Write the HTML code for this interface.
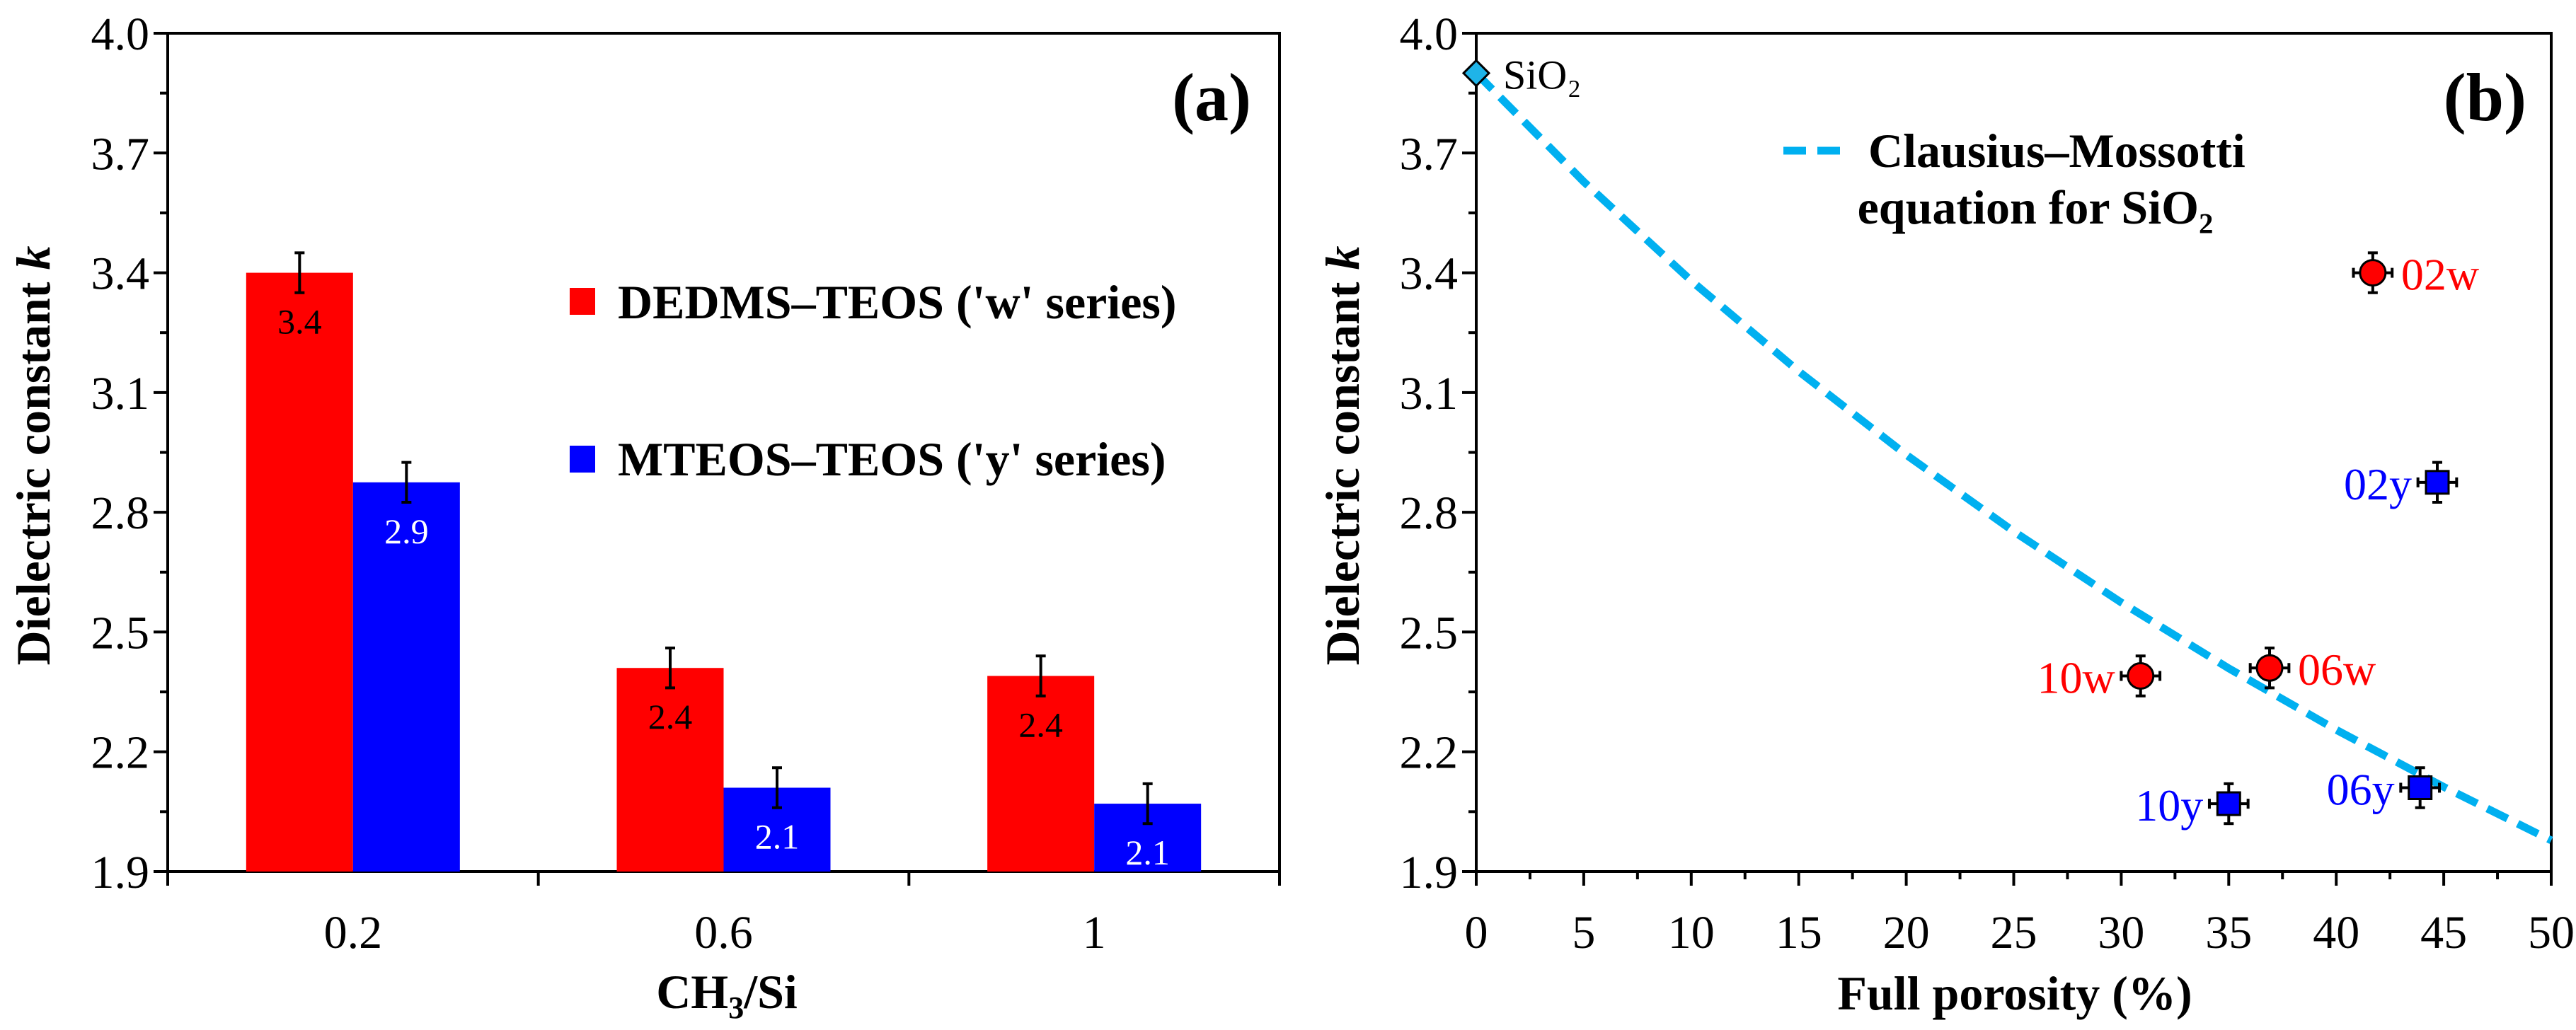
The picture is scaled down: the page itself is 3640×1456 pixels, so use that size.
<!DOCTYPE html>
<html><head><meta charset="utf-8"><style>
body{margin:0;background:#fff}
svg{display:block;font-family:"Liberation Serif",serif}
text{font-family:"Liberation Serif",serif}
</style></head><body>
<svg id="c" width="3640" height="1456" viewBox="0 0 3640 1456" font-family="Liberation Serif, serif"></svg>
<script>
const cats=["0.2","0.6","1"];
const wVals=[3.40,2.41,2.39];
const yVals=[2.875,2.11,2.07];
const barErr=[0.05,0.05,0.05];
const barLabels=["3.4","2.4","2.4"];
const barLabelsY=["2.9","2.1","2.1"];
const yTicks=[1.9,2.2,2.5,2.8,3.1,3.4,3.7,4.0];
const xTicksB=[0,5,10,15,20,25,30,35,40,45,50];
const ptNames=["02w","06w","10w","02y","06y","10y"];
const ptX=[41.7,36.9,30.9,44.7,43.9,35.0];
const ptY=[3.40,2.41,2.39,2.875,2.11,2.07];
const ptSeries=["w","w","w","y","y","y"];
const ptXErr=[0.9,0.9,0.9,0.9,0.9,0.9];
const ptYErr=[0.05,0.05,0.05,0.05,0.05,0.05];
const cmX=[0,5,10,15,20,25,30,35,40,45,50];
const cmK=[3.9,3.628,3.380,3.153,2.944,2.752,2.574,2.409,2.255,2.112,1.978];

const NS="http://www.w3.org/2000/svg";
const svg=document.getElementById('c');
function el(t,a,txt){const e=document.createElementNS(NS,t);for(const k in a)e.setAttribute(k,a[k]);if(txt!=null)e.textContent=txt;svg.appendChild(e);return e;}
const pTop=47,pBot=1232;
const Y=v=>pBot-(v-1.9)/(4.0-1.9)*(pBot-pTop);
const TF=66, TT=68;

// ===== Panel A =====
const aL=237,aR=1808,gW=(aR-aL)/3;
let e;
e=el('rect',{x:aL,y:pTop,width:aR-aL,height:pBot-pTop,fill:'none',stroke:'#000','stroke-width':4});

for(let i=0;i<yTicks.length;i++){
 const v=yTicks[i],y=Y(v);
 e=el('line',{x1:aL-20,x2:aL,y1:y,y2:y,stroke:'#000','stroke-width':4});
 
 if(i<yTicks.length-1){const ym=Y(v+0.15);e=el('line',{x1:aL-11,x2:aL,y1:ym,y2:ym,stroke:'#000','stroke-width':4});}
 e=el('text',{x:aL-26,y:y+23,'text-anchor':'end','font-size':TF},v.toFixed(1));
 
}
for(let i=0;i<=3;i++){const x=aL+gW*i;e=el('line',{x1:x,x2:x,y1:pBot,y2:pBot+20,stroke:'#000','stroke-width':4});}
const bw=151,gap=(gW-2*bw)/2;
for(let i=0;i<cats.length;i++){
 const g=aL+gW*i;
 const xr=g+gap,xb=g+gap+bw;
 e=el('rect',{x:xr,y:Y(wVals[i]),width:bw,height:pBot-Y(wVals[i]),fill:'#ff0000'});
 
 e=el('rect',{x:xb,y:Y(yVals[i]),width:bw,height:pBot-Y(yVals[i]),fill:'#0000ff'});
 
 [[xr,wVals[i]],[xb,yVals[i]]].forEach(([x,v])=>{
  const cx=x+bw/2,y1=Y(v+barErr[i]),y2=Y(v-barErr[i]);
  const eb=el('path',{d:`M${cx},${y1}V${y2}M${cx-7},${y1}H${cx+7}M${cx-7},${y2}H${cx+7}`,stroke:'#000','stroke-width':4,fill:'none'});
  
  
 });
 e=el('text',{x:xr+bw/2,y:Y(wVals[i])+86,'text-anchor':'middle','font-size':50},barLabels[i]);
 
 e=el('text',{x:xb+bw/2,y:Y(yVals[i])+86,'text-anchor':'middle','font-size':50,fill:'#fff'},barLabelsY[i]);
 
 e=el('text',{x:g+gW/2,y:1340,'text-anchor':'middle','font-size':TF},cats[i]);
 
}
e=el('rect',{x:805,y:407,width:36,height:38,fill:'#ff0000'});
e=el('text',{x:873,y:450,'font-size':TT,'font-weight':'bold'},"DEDMS–TEOS ('w' series)");
e=el('rect',{x:805,y:630,width:36,height:38,fill:'#0000ff'});
e=el('text',{x:873,y:672,'font-size':TT,'font-weight':'bold'},"MTEOS–TEOS ('y' series)");
e=el('text',{x:1768,y:170,'text-anchor':'end','font-size':96,'font-weight':'bold'},"(a)");
e=el('text',{x:0,y:0,'text-anchor':'middle','font-size':TT,'font-weight':'bold',transform:'translate(70,644) rotate(-90)'});
e.innerHTML='Dielectric constant <tspan font-style="italic">k</tspan>';
e=el('text',{x:1027,y:1425,'text-anchor':'middle','font-size':TT,'font-weight':'bold'});
e.innerHTML='CH<tspan font-size="44" dy="14">3</tspan><tspan dy="-14">/Si</tspan>';

// ===== Panel B =====
const bL=2086,bR=3605;
const X=v=>bL+v/50*(bR-bL);
e=el('rect',{x:bL,y:pTop,width:bR-bL,height:pBot-pTop,fill:'none',stroke:'#000','stroke-width':4});

for(let i=0;i<yTicks.length;i++){
 const v=yTicks[i],y=Y(v);
 e=el('line',{x1:bL-20,x2:bL,y1:y,y2:y,stroke:'#000','stroke-width':4});
 if(i<yTicks.length-1){const ym=Y(v+0.15);e=el('line',{x1:bL-11,x2:bL,y1:ym,y2:ym,stroke:'#000','stroke-width':4});}
 e=el('text',{x:bL-26,y:y+23,'text-anchor':'end','font-size':TF},v.toFixed(1));
}
for(let i=0;i<xTicksB.length;i++){
 const x=X(xTicksB[i]);
 e=el('line',{x1:x,x2:x,y1:pBot,y2:pBot+20,stroke:'#000','stroke-width':4});
 if(i<xTicksB.length-1){const xm=X(xTicksB[i]+2.5);e=el('line',{x1:xm,x2:xm,y1:pBot,y2:pBot+11,stroke:'#000','stroke-width':4});}
 e=el('text',{x:x,y:1340,'text-anchor':'middle','font-size':TF},String(xTicksB[i]));
}
let d='';
for(let i=0;i<cmX.length;i++){d+=(i?'L':'M')+X(cmX[i])+','+Y(cmK[i]);}
e=el('path',{d:d,fill:'none',stroke:'#00b0f0','stroke-width':11,'stroke-dasharray':'32,16'});

e=el('line',{x1:2520,x2:2613,y1:213,y2:213,stroke:'#00b0f0','stroke-width':11,'stroke-dasharray':'32,16'});
e=el('text',{x:2640,y:236,'font-size':TT,'font-weight':'bold'},'Clausius–Mossotti');
e=el('text',{x:2876,y:316,'text-anchor':'middle','font-size':TT,'font-weight':'bold'},'equation for SiO₂');
const sx=X(0),sy=Y(3.9);
e=el('path',{d:`M${sx},${sy-18}L${sx+18},${sy}L${sx},${sy+18}L${sx-18},${sy}Z`,fill:'#1fb4e8',stroke:'#000','stroke-width':3});
e=el('text',{x:sx+38,y:sy+22,'font-size':58},'SiO₂');
for(let i=0;i<ptNames.length;i++){
 const cx=X(ptX[i]),cy=Y(ptY[i]);
 const x1=X(ptX[i]-ptXErr[i]),x2=X(ptX[i]+ptXErr[i]),y1=Y(ptY[i]+ptYErr[i]),y2=Y(ptY[i]-ptYErr[i]);
 e=el('path',{d:`M${x1},${cy}H${x2}M${x1},${cy-7}V${cy+7}M${x2},${cy-7}V${cy+7}M${cx},${y1}V${y2}M${cx-7},${y1}H${cx+7}M${cx-7},${y2}H${cx+7}`,stroke:'#000','stroke-width':4,fill:'none'});
 
 const w=ptSeries[i]==='w';
 if(w){e=el('circle',{cx:cx,cy:cy,r:18,fill:'#ff0000',stroke:'#000','stroke-width':3});}
 else{e=el('rect',{x:cx-16,y:cy-16,width:32,height:32,fill:'#0000ff',stroke:'#000','stroke-width':3});}
 
 const right=(ptNames[i]==='02w'||ptNames[i]==='06w');
 e=el('text',{x:right?cx+40:cx-36,y:cy+24,'text-anchor':right?'start':'end','font-size':64,fill:w?'#ff0000':'#0000ff'},ptNames[i]);
 
}
e=el('text',{x:3570,y:170,'text-anchor':'end','font-size':96,'font-weight':'bold'},"(b)");
e=el('text',{x:0,y:0,'text-anchor':'middle','font-size':TT,'font-weight':'bold',transform:'translate(1920,644) rotate(-90)'});
e.innerHTML='Dielectric constant <tspan font-style="italic">k</tspan>';
e=el('text',{x:2847,y:1427,'text-anchor':'middle','font-size':TT,'font-weight':'bold'},'Full porosity (%)');
</script>
</body></html>
